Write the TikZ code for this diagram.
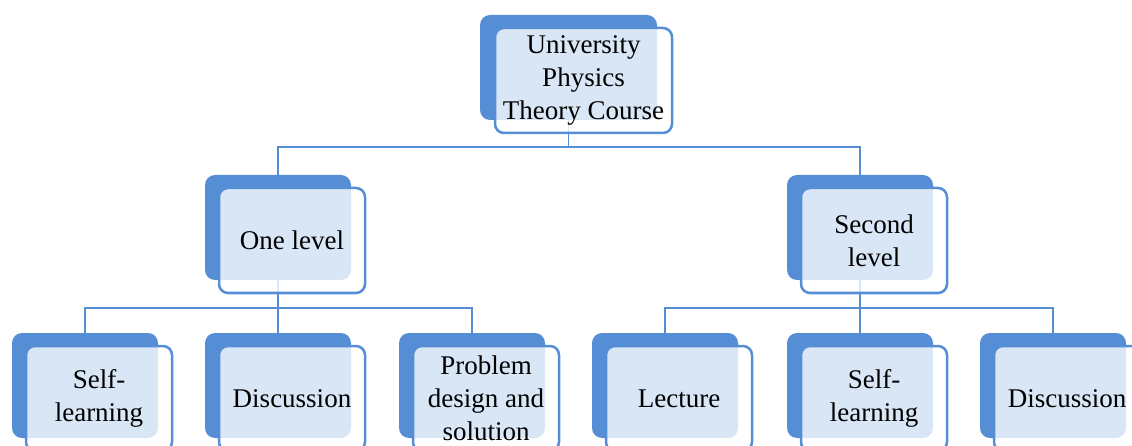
\documentclass[tikz,border=0pt]{standalone}
\usepackage{fontspec}
\setmainfont{Liberation Serif}
\usetikzlibrary{positioning}
\definecolor{boxblue}{RGB}{85,142,213}

\begin{document}
\begin{tikzpicture}[x=1pt,y=-1pt]
  \useasboundingbox (0,0) rectangle (1132,446);
  \begin{scope}[every node/.style={
      fill=boxblue,rounded corners=10pt,inner sep=0pt,outer sep=0pt,
      minimum width=146pt,minimum height=105pt}]
    \node[minimum width=177pt] (course) at (568.5,67.5) {};
    \node (levelA) at (278,227.5) {};
    \node (levelB) at (860,227.5) {};
    \node (selfA) at (85,385.5) {};
    \node (discA) at (278,385.5) {};
    \node (probA) at (472,385.5) {};
    \node (lectB) at (665,385.5) {};
    \node (selfB) at (860,385.5) {};
    \node (discB) at (1053,385.5) {};
  \end{scope}
  \begin{scope}[every path/.style={draw=boxblue,line width=1.5pt}]
    \path
    (course.south) -- ++(0,27) -| (levelA.north)
    (course.south) -- ++(0,27) -| (levelB.north);
    \foreach \sub in {selfA,discA,probA}
      \path (levelA.south) -- ++(0,28) -| (\sub.north);
    \foreach \sub in {lectB,selfB,discB}
      \path (levelB.south) -- ++(0,28) -| (\sub.north);
  \end{scope}
  \begin{scope}[every node/.style={
      draw=boxblue,line width=2.5pt,fill=white,fill opacity=0.78,text opacity=1,
      rounded corners=9pt,inner sep=0pt,outer sep=0pt,
      minimum width=146pt,minimum height=105pt,
      align=center,font=\fontsize{27}{33}\selectfont}]
    \node[minimum width=177pt,below right=13pt and 15pt of course.north west] (courseF)
      {University\\Physics\\Theory Course};
    \node[below right=13pt and 14pt of levelA.north west] (levelAF) {One level};
    \node[below right=13pt and 14pt of levelB.north west] (levelBF) {Second\\level};
    \node[below right=13pt and 14pt of selfA.north west] (selfAF) {Self-\\learning};
    \node[below right=13pt and 14pt of discA.north west] (discAF) {Discussion};
    \node[below right=13pt and 14pt of probA.north west] (probAF) {Problem\\design and\\solution};
    \node[below right=13pt and 14pt of lectB.north west] (lectBF) {Lecture};
    \node[below right=13pt and 14pt of selfB.north west] (selfBF) {Self-\\learning};
    \node[below right=13pt and 14pt of discB.north west] (discBF) {Discussion};
  \end{scope}
\end{tikzpicture}
\end{document}
